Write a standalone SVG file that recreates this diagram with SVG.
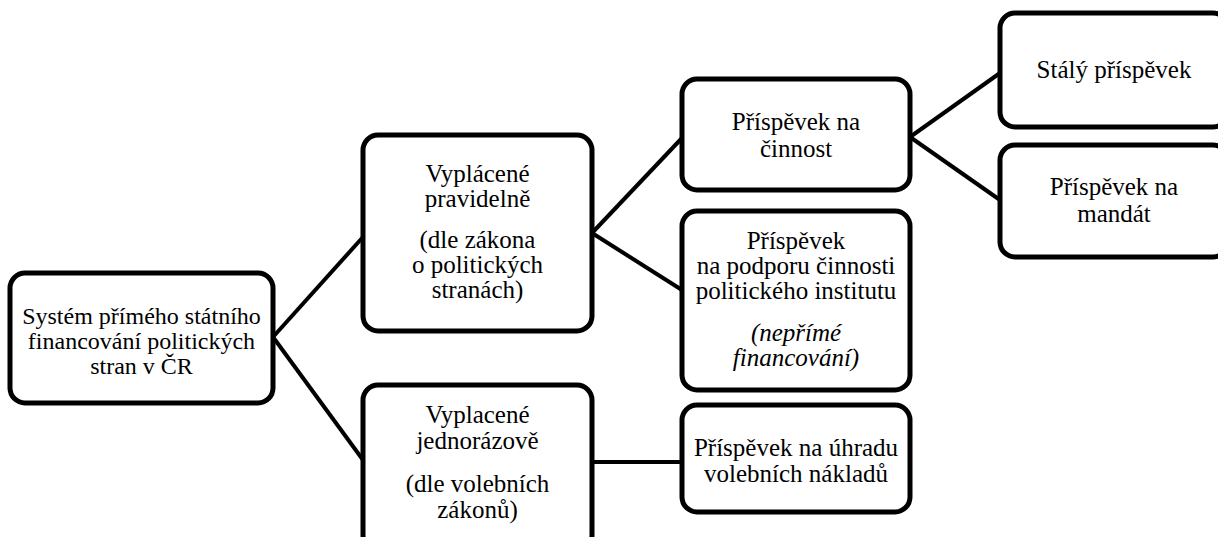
<svg xmlns="http://www.w3.org/2000/svg" width="1218" height="537" viewBox="0 0 1218 537">
<defs>
<style>
.box{fill:#fff;stroke:#000;stroke-width:5}
.ln{stroke:#000;stroke-width:4;fill:none}
</style>
</defs>
<rect width="1218" height="537" fill="#fff"/>
<g id="connectors">
<line class="ln" x1="273" y1="337" x2="363" y2="237"/>
<line class="ln" x1="273" y1="337" x2="363" y2="460"/>
<line class="ln" x1="592" y1="233" x2="682" y2="138"/>
<line class="ln" x1="592" y1="233" x2="682" y2="290"/>
<line class="ln" x1="592" y1="462" x2="682" y2="462"/>
<line class="ln" x1="910" y1="137" x2="1000" y2="73"/>
<line class="ln" x1="910" y1="137" x2="1000" y2="200"/>
</g>
<g id="root">
<rect class="box" x="10" y="273" width="263" height="130" rx="15"/>
<text font-family="Times New Roman, Liberation Serif, Tinos, serif" font-size="24" text-anchor="middle" x="141.5" y="324">Systém přímého státního</text>
<text font-family="Times New Roman, Liberation Serif, Tinos, serif" font-size="24" text-anchor="middle" x="141.5" y="349">financování politických</text>
<text font-family="Times New Roman, Liberation Serif, Tinos, serif" font-size="24" text-anchor="middle" x="141.5" y="374">stran v ČR</text>
</g>
<g id="pravidelne">
<rect class="box" x="363" y="135" width="229" height="196" rx="15"/>
<text font-family="Times New Roman, Liberation Serif, Tinos, serif" font-size="25" text-anchor="middle" x="477.5" y="182">Vyplácené</text>
<text font-family="Times New Roman, Liberation Serif, Tinos, serif" font-size="25" text-anchor="middle" x="477.5" y="207">pravidelně</text>
<text font-family="Times New Roman, Liberation Serif, Tinos, serif" font-size="25" text-anchor="middle" x="477.5" y="248">(dle zákona</text>
<text font-family="Times New Roman, Liberation Serif, Tinos, serif" font-size="25" text-anchor="middle" x="477.5" y="273">o politických</text>
<text font-family="Times New Roman, Liberation Serif, Tinos, serif" font-size="25" text-anchor="middle" x="477.5" y="298">stranách)</text>
</g>
<g id="jednorazove">
<rect class="box" x="363" y="385" width="229" height="165" rx="15"/>
<text font-family="Times New Roman, Liberation Serif, Tinos, serif" font-size="25" text-anchor="middle" x="477.5" y="423">Vyplacené</text>
<text font-family="Times New Roman, Liberation Serif, Tinos, serif" font-size="25" text-anchor="middle" x="477.5" y="449">jednorázově</text>
<text font-family="Times New Roman, Liberation Serif, Tinos, serif" font-size="25" text-anchor="middle" x="477.5" y="492">(dle volebních</text>
<text font-family="Times New Roman, Liberation Serif, Tinos, serif" font-size="25" text-anchor="middle" x="477.5" y="518">zákonů)</text>
</g>
<g id="cinnost">
<rect class="box" x="682" y="79" width="228" height="111" rx="15"/>
<text font-family="Times New Roman, Liberation Serif, Tinos, serif" font-size="25" text-anchor="middle" x="796" y="130">Příspěvek na</text>
<text font-family="Times New Roman, Liberation Serif, Tinos, serif" font-size="25" text-anchor="middle" x="796" y="157">činnost</text>
</g>
<g id="institut">
<rect class="box" x="682" y="211" width="228" height="179" rx="15"/>
<text font-family="Times New Roman, Liberation Serif, Tinos, serif" font-size="25" text-anchor="middle" x="796" y="249">Příspěvek</text>
<text font-family="Times New Roman, Liberation Serif, Tinos, serif" font-size="25" text-anchor="middle" x="796" y="274">na podporu činnosti</text>
<text font-family="Times New Roman, Liberation Serif, Tinos, serif" font-size="25" text-anchor="middle" x="796" y="299">politického institutu</text>
<text font-family="Times New Roman, Liberation Serif, Tinos, serif" font-size="25" font-style="italic" text-anchor="middle" x="796" y="341">(nepřímé</text>
<text font-family="Times New Roman, Liberation Serif, Tinos, serif" font-size="25" font-style="italic" text-anchor="middle" x="796" y="366">financování)</text>
</g>
<g id="volebni">
<rect class="box" x="682" y="405" width="228" height="107" rx="15"/>
<text font-family="Times New Roman, Liberation Serif, Tinos, serif" font-size="25" text-anchor="middle" x="796" y="456">Příspěvek na úhradu</text>
<text font-family="Times New Roman, Liberation Serif, Tinos, serif" font-size="25" text-anchor="middle" x="796" y="482">volebních nákladů</text>
</g>
<g id="staly">
<rect class="box" x="1000" y="13" width="228" height="114" rx="15"/>
<text font-family="Times New Roman, Liberation Serif, Tinos, serif" font-size="25" text-anchor="middle" x="1114" y="78">Stálý příspěvek</text>
</g>
<g id="mandat">
<rect class="box" x="1000" y="145" width="228" height="112" rx="15"/>
<text font-family="Times New Roman, Liberation Serif, Tinos, serif" font-size="25" text-anchor="middle" x="1114" y="195">Příspěvek na</text>
<text font-family="Times New Roman, Liberation Serif, Tinos, serif" font-size="25" text-anchor="middle" x="1114" y="222">mandát</text>
</g>
</svg>
